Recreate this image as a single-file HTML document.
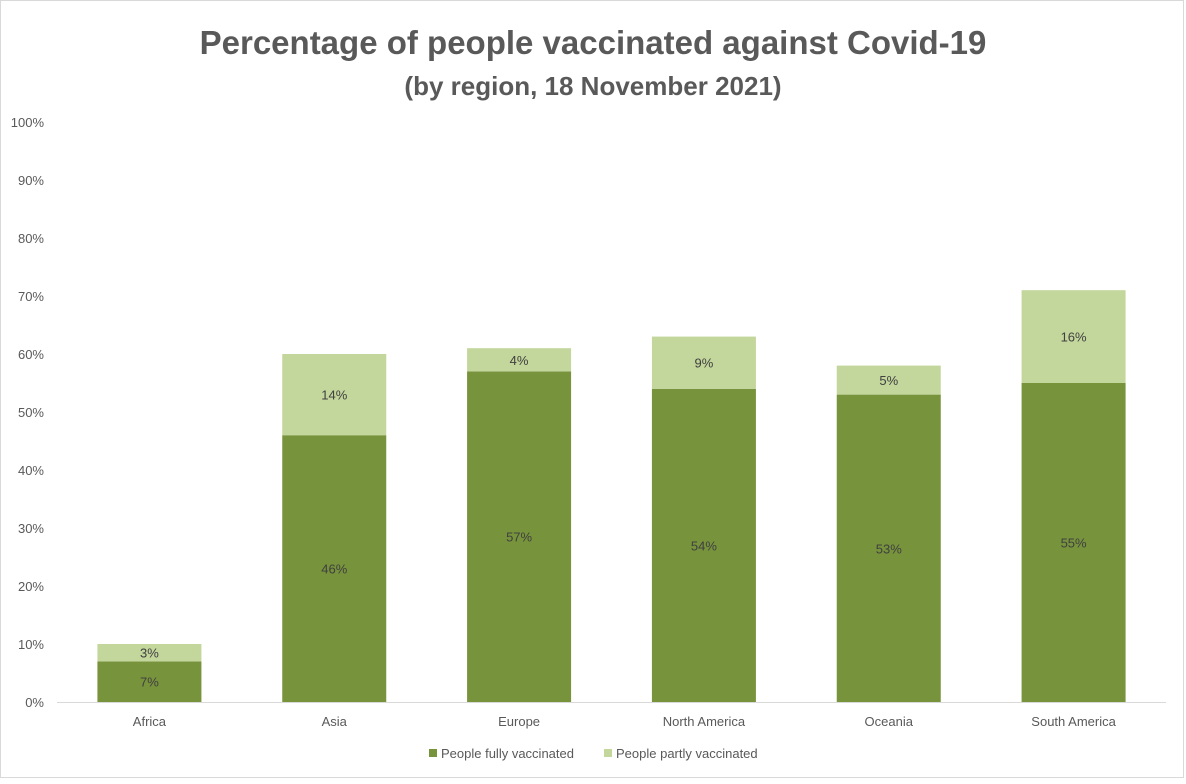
<!DOCTYPE html>
<html><head><meta charset="utf-8">
<style>
body{margin:0;background:#fff;}
svg text{font-family:"Liberation Sans",sans-serif;}
</style></head>
<body>
<svg width="1186" height="779" viewBox="0 0 1186 779">
<rect x="0.5" y="0.5" width="1183" height="777" fill="#fff" stroke="#d9d9d9"/>
<text x="593" y="54" text-anchor="middle" font-size="33" font-weight="bold" fill="#595959">Percentage of people vaccinated against Covid-19</text>
<text x="593" y="95" text-anchor="middle" font-size="26" font-weight="bold" fill="#595959">(by region, 18 November 2021)</text>
<g id="yaxis"></g>
<g id="bars"></g>
<line x1="57" y1="702.5" x2="1166" y2="702.5" stroke="#d9d9d9"/>
<g>
<rect x="429" y="749" width="8" height="8" fill="#77933c"/>
<text x="441" y="758" font-size="13" fill="#595959">People fully vaccinated</text>
<rect x="604" y="749" width="8" height="8" fill="#c3d69b"/>
<text x="616" y="758" font-size="13" fill="#595959">People partly vaccinated</text>
</g>
</svg>
<script>
const categories=["Africa","Asia","Europe","North America","Oceania","South America"];
const fullyValues=[7,46,57,54,53,55];
const partlyValues=[3,14,4,9,5,16];
const yTicks=[0,10,20,30,40,50,60,70,80,90,100];
const NS="http://www.w3.org/2000/svg";
const x0=57,x1=1166,yBase=702,yTop=122;
const band=(x1-x0)/categories.length, barW=104;
function y(v){return yBase-(v/100)*(yBase-yTop);}
function xc(i){return x0+band*(i+0.5);}
function mk(tag,attrs,parent){const e=document.createElementNS(NS,tag);for(const k in attrs)e.setAttribute(k,attrs[k]);parent.appendChild(e);return e;}
const ya=document.getElementById('yaxis');
yTicks.forEach(t=>{
 const tx=mk('text',{x:44,y:y(t)+5,'text-anchor':'end','font-size':13,fill:'#595959'},ya);
 
 
 tx.textContent=t+'%';
});
const bg=document.getElementById('bars');
categories.forEach((c,i)=>{
 const cx=xc(i),f=fullyValues[i],p=partlyValues[i];
 const r1=mk('rect',{x:cx-barW/2,y:y(f),width:barW,height:yBase-y(f),fill:'#77933c'},bg);
 
 
 const r2=mk('rect',{x:cx-barW/2,y:y(f+p),width:barW,height:y(f)-y(f+p),fill:'#c3d69b'},bg);
 
 
 const l1=mk('text',{x:cx,y:(y(f)+yBase)/2+5,'text-anchor':'middle','font-size':13,fill:'#404040'},bg);
 
 
 l1.textContent=f+'%';
 const l2=mk('text',{x:cx,y:(y(f)+y(f+p))/2+5,'text-anchor':'middle','font-size':13,fill:'#404040'},bg);
 
 
 l2.textContent=p+'%';
 const cl=mk('text',{x:cx,y:726,'text-anchor':'middle','font-size':13,fill:'#595959'},bg);
 
 
 cl.textContent=c;
});
</script>
</body></html>
